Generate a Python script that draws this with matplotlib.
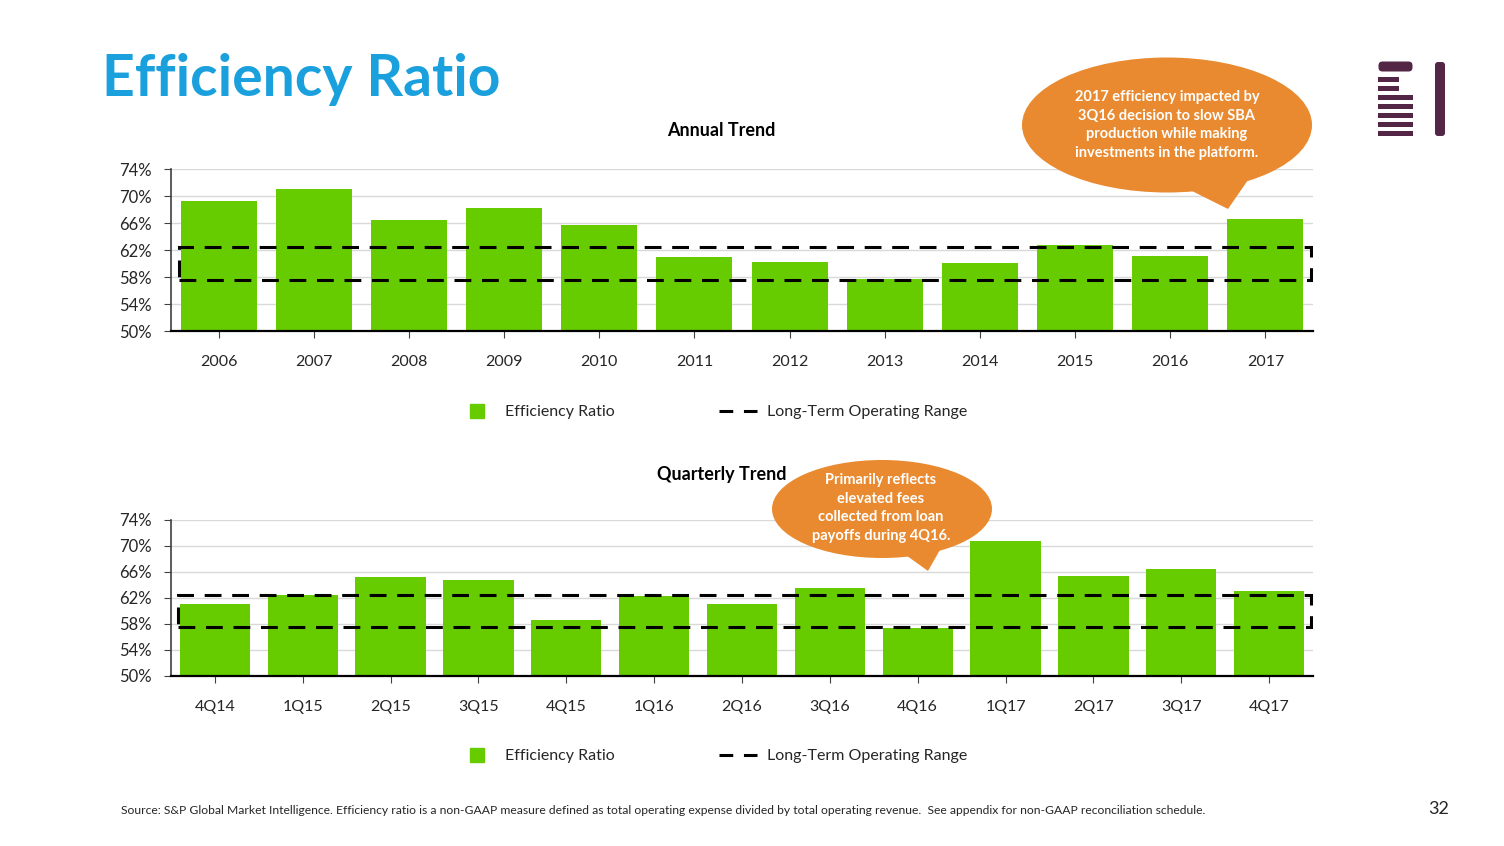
import numpy as np
import matplotlib
matplotlib.use("Agg")
import matplotlib.pyplot as plt
from matplotlib.patches import Rectangle, Ellipse, Polygon, FancyBboxPatch
from matplotlib.lines import Line2D

plt.rcParams['font.family'] = ['Lato', 'DejaVu Sans']

# data
years = ['2006', '2007', '2008', '2009', '2010', '2011', '2012', '2013',
         '2014', '2015', '2016', '2017']
annual_ratio = [69.3, 71.0, 66.4, 68.2, 65.7, 61.0, 60.2, 57.7, 60.1, 62.7, 61.1, 66.6]

quarters = ['4Q14', '1Q15', '2Q15', '3Q15', '4Q15', '1Q16', '2Q16', '3Q16',
            '4Q16', '1Q17', '2Q17', '3Q17', '4Q17']
quarterly_ratio = [61.1, 62.5, 65.2, 64.8, 58.6, 62.3, 61.1, 63.5, 57.4, 70.8, 65.4, 66.5, 63.1]

range_low = 57.5
range_high = 62.5
yticks = [50, 54, 58, 62, 66, 70, 74]

GREEN = '#66CC00'
ORANGE = '#E98A30'
BLUE = '#1BA0DE'
PURPLE = '#532646'
TXT = '#262626'

W, H = 1504, 846
fig = plt.figure(figsize=(W / 100, H / 100), dpi=100)


def draw_chart(rect, cats, vals, title, title_y, legend_y):
    ax = fig.add_axes(rect)
    x = np.arange(len(cats))
    ax.bar(x, vals, width=0.8, color=GREEN, zorder=2)
    ax.set_xlim(-0.5, len(cats) - 0.5)
    ax.set_ylim(50, 74)
    ax.set_yticks(yticks)
    ax.set_yticklabels([f'{t}%' for t in yticks])
    ax.set_xticks(x)
    ax.set_xticklabels(cats)
    ax.grid(axis='y', color='#D9D9D9', lw=1, zorder=0)
    ax.set_axisbelow(True)
    for s in ['top', 'right']:
        ax.spines[s].set_visible(False)
    ax.spines['left'].set_color('#404040')
    ax.spines['left'].set_linewidth(1.2)
    ax.spines['bottom'].set_color('#000000')
    ax.spines['bottom'].set_linewidth(1.6)
    ax.tick_params(axis='x', length=5, color='#404040', pad=12, labelsize=11.5,
                   labelcolor=TXT)
    ax.tick_params(axis='y', length=5, color='#404040', pad=9, labelsize=12,
                   labelcolor=TXT)
    # long-term operating range box
    box = Rectangle((-0.42, range_low), len(cats) - 1 + 0.9, range_high - range_low,
                    fill=False, ec='black', lw=2.2, ls=(0, (5.5, 3.5)), zorder=3)
    ax.add_patch(box)
    ax.text(0.482, title_y, title, transform=ax.transAxes, ha='center', va='center',
            fontsize=13, fontweight='bold', color='black')
    handles = [Line2D([], [], ls='none', marker='s', ms=10, color=GREEN),
               Line2D([], [], color='black', lw=2.2, ls=(0, (4.5, 3.5)))]
    ax.legend(handles, ['Efficiency Ratio', 'Long-Term Operating Range'],
              loc='center', bbox_to_anchor=(0.474, legend_y), ncol=2,
              frameon=False, fontsize=11.5, handlelength=2.4, handletextpad=0.6,
              columnspacing=6.5, labelcolor=TXT)
    return ax


ax1 = draw_chart([171 / W, 1 - 331 / H, 1142 / W, 162 / H], years, annual_ratio,
                 'Annual Trend', 1.24, -0.5)
ax2 = draw_chart([171 / W, 1 - 676 / H, 1142 / W, 156 / H], quarters, quarterly_ratio,
                 'Quarterly Trend', 1.29, -0.515)

# overlay in pixel coordinates for slide decoration
ov = fig.add_axes([0, 0, 1, 1], zorder=10)
ov.set_xlim(0, W)
ov.set_ylim(H, 0)
ov.axis('off')
ov.patch.set_visible(False)

ov.text(102, 80, 'Efficiency Ratio', fontsize=41, fontweight='bold', color=BLUE,
        va='center', ha='left')

# callouts
ov.add_patch(Ellipse((1167, 125), 290, 135, color=ORANGE, lw=0))
ov.add_patch(Polygon([(1180, 185), (1228, 209), (1248, 180)], color=ORANGE, lw=0))
ov.text(1167, 125, '2017 efficiency impacted by\n3Q16 decision to slow SBA\n'
        'production while making\ninvestments in the platform.',
        ha='center', va='center', color='white', fontsize=10.5, fontweight='bold',
        linespacing=1.4)

ov.add_patch(Ellipse((882, 509), 220, 98, color=ORANGE, lw=0))
ov.add_patch(Polygon([(903, 553), (928, 571), (941, 548)], color=ORANGE, lw=0))
ov.text(881, 508, 'Primarily reflects\nelevated fees\ncollected from loan\npayoffs during 4Q16.',
        ha='center', va='center', color='white', fontsize=10.5, fontweight='bold',
        linespacing=1.4)

# logo
ov.add_patch(FancyBboxPatch((1380, 63), 31, 7, boxstyle='round,pad=1.5,rounding_size=4',
                            color=PURPLE, lw=0))
for y0, x1 in [(77, 1399), (86, 1399), (95, 1413), (104, 1413), (113, 1413),
               (122, 1413), (131, 1413)]:
    ov.add_patch(Rectangle((1378, y0), x1 - 1378, 5, color=PURPLE, lw=0))
ov.add_patch(FancyBboxPatch((1436, 63), 8, 72, boxstyle='round,pad=1,rounding_size=3',
                            color=PURPLE, lw=0))

# footer
ov.text(121, 811, 'Source: S&P Global Market Intelligence. Efficiency ratio is a non-GAAP '
        'measure defined as total operating expense divided by total operating revenue.  '
        'See appendix for non-GAAP reconciliation schedule.',
        fontsize=8.7, color=TXT, va='center', ha='left')
ov.text(1449, 809, '32', fontsize=13, color=TXT, va='center', ha='right')

fig.savefig('out.png', dpi=100)
